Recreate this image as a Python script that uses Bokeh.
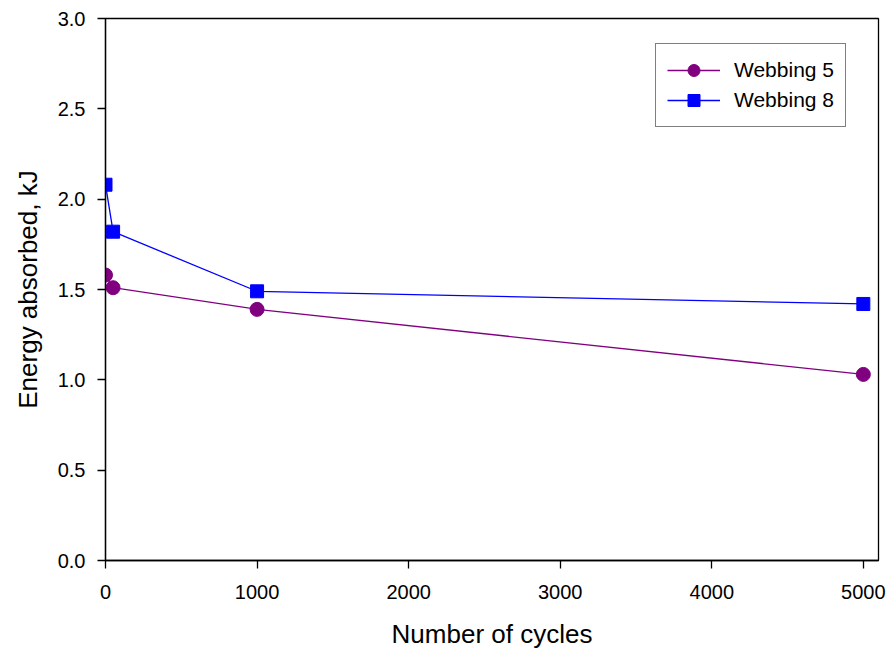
from bokeh.plotting import figure
from bokeh.models import Range1d, FixedTicker, NumeralTickFormatter, Legend, LegendItem
from bokeh.embed import file_html
from bokeh.resources import INLINE

cycles = [0, 50, 1000, 5000]
webbing5 = [1.58, 1.51, 1.39, 1.03]
webbing8 = [2.08, 1.82, 1.49, 1.42]
x_ticks = [0, 1000, 2000, 3000, 4000, 5000]
y_ticks = [0.0, 0.5, 1.0, 1.5, 2.0, 2.5, 3.0]

FONT = "Liberation Sans"

p = figure(frame_width=773, frame_height=542, output_backend="svg", toolbar_location=None,
           x_range=Range1d(0, 5100), y_range=Range1d(0, 3.0),
           min_border_left=105, min_border_right=10, min_border_top=18, min_border_bottom=80)
p.grid.visible = False
p.outline_line_color = "black"
p.outline_line_width = 1.3
p.background_fill_color = "white"
p.border_fill_color = "white"

for ax in (p.xaxis[0], p.yaxis[0]):
    ax.axis_line_color = "black"
    ax.axis_line_width = 1.3
    ax.major_tick_line_color = "black"
    ax.major_tick_line_width = 1.3
    ax.major_tick_out = 8
    ax.major_tick_in = 0
    ax.minor_tick_line_color = None
    ax.major_label_text_font = FONT
    ax.major_label_text_font_size = "20px"
    ax.major_label_text_color = "black"
    ax.axis_label_text_font = FONT
    ax.axis_label_text_font_size = "26px"
    ax.axis_label_text_font_style = "normal"
    ax.axis_label_text_color = "black"

p.xaxis[0].ticker = FixedTicker(ticks=x_ticks)
p.yaxis[0].ticker = FixedTicker(ticks=y_ticks)
p.yaxis[0].formatter = NumeralTickFormatter(format="0.0")
p.xaxis[0].axis_label = "Number of cycles"
p.yaxis[0].axis_label = "Energy absorbed, kJ"
p.xaxis[0].major_label_standoff = 16
p.yaxis[0].major_label_standoff = 12
p.xaxis[0].axis_label_standoff = 17
p.yaxis[0].axis_label_standoff = 12

purple = "#800080"
blue = "#0000FF"

l5 = p.line(cycles, webbing5, line_color=purple, line_width=1.3)
m5 = p.scatter(cycles, webbing5, marker="circle", size=14, fill_color=purple, line_color=purple)
l8 = p.line(cycles, webbing8, line_color=blue, line_width=1.3)
m8 = p.scatter(cycles, webbing8, marker="square", size=13, fill_color=blue, line_color=blue)

legend = Legend(items=[LegendItem(label="Webbing 5", renderers=[l5, m5]),
                       LegendItem(label="Webbing 8", renderers=[l8, m8])],
                location=(550, 433), padding=11, spacing=0, margin=0,
                glyph_width=53, glyph_height=30, label_standoff=14, label_width=100,
                label_text_font=FONT, label_text_font_size="21px", label_text_color="black",
                border_line_color="black", border_line_width=1.2,
                background_fill_alpha=1.0)
p.add_layout(legend, "center")

open("out.html", "w").write(file_html(p, INLINE))
